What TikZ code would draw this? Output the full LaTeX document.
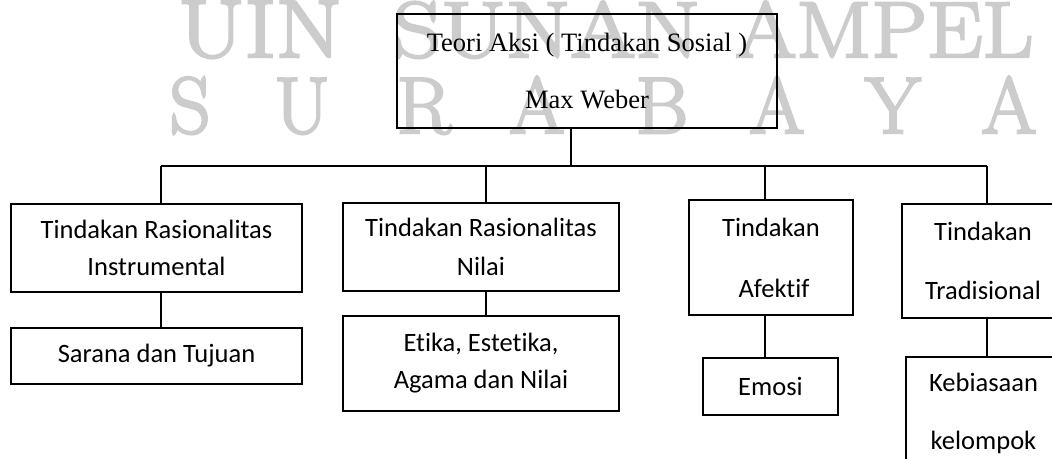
\documentclass[tikz,border=0pt]{standalone}
\usepackage{fontspec}
\setmainfont{Carlito}[Ligatures=NoCommon]
\newfontfamily\serifbox{Liberation Serif}
\newfontfamily\wmfont{Latin Modern Roman}
\definecolor{wmgray}{gray}{0.80}
\newcommand{\wmthick}[1]{\special{pdf:literal 2 Tr 2.5 w}#1\special{pdf:literal 0 Tr}}
\begin{document}
\begin{tikzpicture}[x=1pt,y=-1pt,
  box/.style={draw,line width=1.3pt,rectangle,inner sep=0pt,align=center},
  conn/.style={line width=1.3pt},
  wm/.style={inner sep=0pt,text=wmgray,font=\wmfont\fontsize{80}{80}\selectfont}]
\useasboundingbox (0,0) rectangle (1052,458);
\clip (0,0) rectangle (1052,458);
\fill[white] (0,0) rectangle (1052,458);
% watermark
\node[wm,anchor=base west] (wmA1) at (178,57) {\resizebox{164pt}{56pt}{\wmthick{UIN}}};
\node[wm,anchor=base west] (wmA2) at (393,57) {\resizebox{307pt}{56pt}{\wmthick{SUNAN}}};
\node[wm,anchor=base west] (wmA3) at (735,57) {\resizebox{298pt}{56pt}{\wmthick{AMPEL}}};
\foreach \L/\X [count=\i] in {S/190,U/302,R/424,A/537,B/662,A/777,Y/893,A/1009}
  \node[wm,anchor=base] (wmB\i) at (\X,133) {\wmthick{\L}};
% boxes
\node[box,minimum width=380pt,minimum height=114pt,
  font=\serifbox\fontsize{26.5}{57}\selectfont] (top) at (587,71)
  {Teori Aksi ( Tindakan Sosial )\\Max Weber};
\node[box,minimum width=291pt,minimum height=88pt,font=\fontsize{26.5}{37}\selectfont]
  (b1) at (156.5,248) {Tindakan Rasionalitas\\Instrumental};
\node[box,minimum width=291pt,minimum height=56pt,font=\fontsize{26.5}{37}\selectfont]
  (c1) at (156.5,356) {Sarana dan Tujuan};
\node[box,minimum width=276pt,minimum height=88pt,font=\fontsize{26.5}{39}\selectfont]
  (b2) at (481,247) {Tindakan Rasionalitas\\Nilai};
\node[box,minimum width=276pt,minimum height=95pt,font=\fontsize{26.5}{37}\selectfont]
  (c2) at (481,363.5) {Etika, Estetika,\\Agama dan Nilai};
\node[box,minimum width=164pt,minimum height=115pt,font=\fontsize{26.5}{61}\selectfont]
  (b3) at (771,257.5) {Tindakan\\\ Afektif};
\node[box,minimum width=135pt,minimum height=57pt,font=\fontsize{26.5}{37}\selectfont]
  (c3) at (770.5,386.5) {Emosi};
\node[box,minimum width=162pt,minimum height=114pt,font=\fontsize{26.5}{59}\selectfont]
  (b4) at (983,261) {Tindakan\\Tradisional};
\node[box,minimum width=155pt,minimum height=113pt,font=\fontsize{26.5}{58}\selectfont]
  (c4) at (983.5,413.5) {Kebiasaan\\kelompok};
% connectors
\coordinate (h0) at (571,166);
\coordinate (h1) at (161,166);
\coordinate (h2) at (486,166);
\coordinate (h3) at (765,166);
\coordinate (h4) at (987,166);
\draw[conn] (top.south -| h0) -- (h0);
\draw[conn] (h1) -- (h4);
\draw[conn] (h1) -- (b1.north -| h1);
\draw[conn] (h2) -- (b2.north -| h2);
\draw[conn] (h3) -- (b3.north -| h3);
\draw[conn] (h4) -- (b4.north -| h4);
\draw[conn] (b1.south -| h1) -- (c1.north -| h1);
\draw[conn] (b2.south -| h2) -- (c2.north -| h2);
\draw[conn] (b3.south -| h3) -- (c3.north -| h3);
\draw[conn] (b4.south -| h4) -- (c4.north -| h4);
\end{tikzpicture}
\end{document}
